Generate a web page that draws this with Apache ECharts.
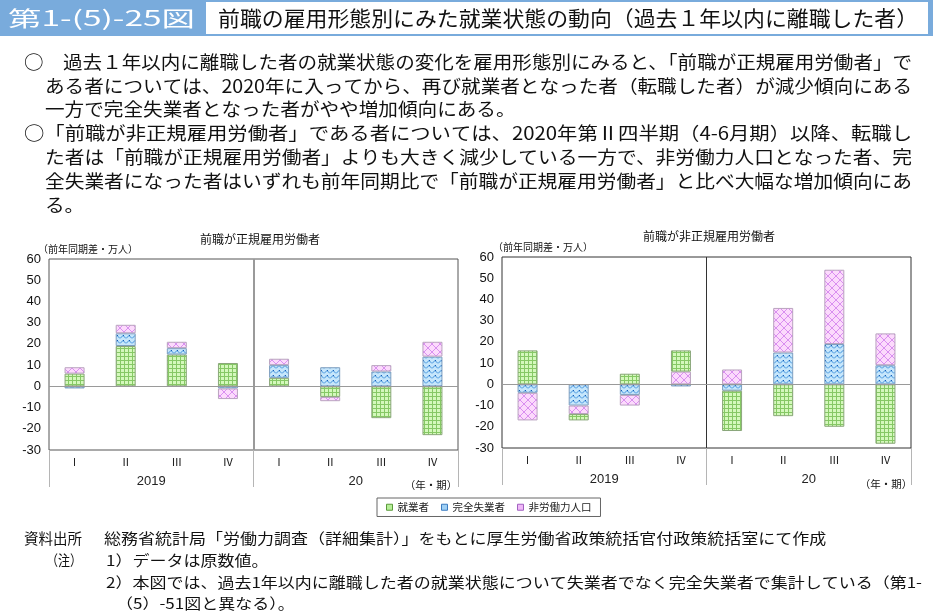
<!DOCTYPE html>
<html><head><meta charset="utf-8">
<script src="https://cdn.jsdelivr.net/npm/echarts@6/dist/echarts.min.js"></script>
<style>html,body{margin:0;padding:0;background:#fff}#c{width:933px;height:613px}</style>
</head><body><div id="c"></div>
<script>
// ---------- data ----------
const quarters = ['Ⅰ','Ⅱ','Ⅲ','Ⅳ','Ⅰ','Ⅱ','Ⅲ','Ⅳ'];
const years = ['2019','20'];
const seriesNames = ['就業者','完全失業者','非労働力人口'];
// 前職が正規雇用労働者
const regEmployed   = [6, 19, 15, 11, 4, -5, -15, -23];
const regUnemployed = [-1, 6, 3, -1, 6, 9, 7, 14];
const regNotInLF    = [3, 4, 3, -5, 3, -2, 3, 7];
// 前職が非正規雇用労働者
const nonEmployed   = [16, -3, 5, 10, -19, -15, -20, -28];
const nonUnemployed = [-4, -10, -5, -1, -3, 15, 19, 9];
const nonNotInLF    = [-13, -4, -5, 6, 7, 21, 35, 15];
const yMin = -30, yMax = 60, yInterval = 10;

const chartTitles = ['前職が正規雇用労働者','前職が非正規雇用労働者'];
const yUnit = '（前年同期差・万人）';
const xUnit = '（年・期）';
const figNo = '第1-(5)-25図';
const figTitle = '前職の雇用形態別にみた就業状態の動向（過去１年以内に離職した者）';
const paraLines = [
 '○　過去１年以内に離職した者の就業状態の変化を雇用形態別にみると、「前職が正規雇用労働者」で',
 'ある者については、2020年に入ってから、再び就業者となった者（転職した者）が減少傾向にある',
 '一方で完全失業者となった者がやや増加傾向にある。',
 '○「前職が非正規雇用労働者」である者については、2020年第Ⅱ四半期（4-6月期）以降、転職し',
 'た者は「前職が正規雇用労働者」よりも大きく減少している一方で、非労働力人口となった者、完',
 '全失業者になった者はいずれも前年同期比で「前職が正規雇用労働者」と比べ大幅な増加傾向にあ',
 'る。'
];
const noteLines = [
 '資料出所', '総務省統計局「労働力調査（詳細集計）」をもとに厚生労働省政策統括官付政策統括室にて作成',
 '（注）', '1）データは原数値。',
 '2）本図では、過去1年以内に離職した者の就業状態について失業者でなく完全失業者で集計している（第1-',
 '（5）-51図と異なる）。'
];

// ---------- patterns ----------
function makePattern(w,h,draw){const c=document.createElement('canvas');c.width=w;c.height=h;const g=c.getContext('2d');draw(g,w,h);return c;}
const greenPat = makePattern(4,4,g=>{g.fillStyle='#d4f8bc';g.fillRect(0,0,4,4);g.fillStyle='#86c865';g.fillRect(0,0,4,1);g.fillRect(0,0,1,4);});
const bluePat = makePattern(6,5,g=>{g.fillStyle='#c6e6fb';g.fillRect(0,0,6,5);g.strokeStyle='#3d8fdb';g.lineWidth=1;g.beginPath();g.moveTo(0,3.5);g.lineTo(3,0.5);g.lineTo(6,3.5);g.stroke();g.fillStyle='#1a5fb8';g.fillRect(3,0,1,1);});
const pinkPat = makePattern(8,8,g=>{g.fillStyle='#fcdafc';g.fillRect(0,0,8,8);g.strokeStyle='#d98ff0';g.lineWidth=1;g.beginPath();g.moveTo(0,0);g.lineTo(8,8);g.moveTo(8,0);g.lineTo(0,8);g.stroke();});
const pats = {'就業者':[greenPat,'#8aa67a'],'完全失業者':[bluePat,'#7f9fbf'],'非労働力人口':[pinkPat,'#b9a3bf']};

// ---------- text fit ----------
const mctx = document.createElement('canvas').getContext('2d');
const JP = '"Noto Sans CJK JP", "Noto Sans", sans-serif';
function measure(t,size,weight){mctx.font=(weight||'normal')+' '+size+'px '+JP;return mctx.measureText(t).width;}
function txt(t,x,y,size,opts){
  opts=opts||{};
  let sx=1;
  if(opts.width){sx=opts.width/measure(t,size,opts.weight);} else if(opts.scale){sx=opts.scale;}
  return {type:'text',x:x,y:y,scaleX:sx,z:100,silent:true,style:{text:t,fontSize:size,fontFamily:JP,fontWeight:opts.weight||'normal',fill:opts.color||'#111',align:opts.align||'left',verticalAlign:'middle'}};
}

const graphics = [];
graphics.push({type:'rect',shape:{x:0,y:0,width:933,height:36},style:{fill:'#79abdc'},z:90,silent:true});
graphics.push({type:'rect',shape:{x:206,y:2,width:722,height:32},style:{fill:'#fff'},z:91,silent:true});
graphics.push(txt(figNo,8,18,21,{width:187,color:'#fff'}));
graphics.push(txt(figTitle,218,18,21,{width:700,color:'#111'}));
// paragraph
const pSize=18;
const fullScale = 867/measure(paraLines[1],pSize);
const pY=[62,86,109,133,157,181,205];
paraLines.forEach((t,i)=>{
  const x = (i===0||i===3)?24:45;
  if(i===2||i===6) graphics.push(txt(t,x,pY[i],pSize,{scale:fullScale}));
  else graphics.push(txt(t,x,pY[i],pSize,{width:912-x}));
});
// axis units
graphics.push(txt(yUnit,38,249,10,{}));
graphics.push(txt(yUnit,493,247,10,{}));
graphics.push(txt(xUnit,431,485,10.5,{align:'center'}));
graphics.push(txt(xUnit,886,484,10.5,{align:'center'}));
// notes
const nSize=14.5;
const nScale = (922-106)/measure(noteLines[4],nSize);
graphics.push(txt(noteLines[0],24,538,nSize,{width:58}));
graphics.push(txt(noteLines[1],104,538,nSize,{scale:nScale}));
graphics.push(txt(noteLines[2],46,560,nSize,{width:36}));
graphics.push(txt(noteLines[3],106,560,nSize,{scale:nScale}));
graphics.push(txt(noteLines[4],106,582,nSize,{scale:nScale}));
graphics.push(txt(noteLines[5],116,603,nSize,{scale:nScale}));

// ---------- series ----------
function bar(name,data,gi){
  const p=pats[name];
  return {type:'bar',name:name,data:data,xAxisIndex:gi*2,yAxisIndex:gi,stack:'s'+gi,barWidth:20,
    itemStyle:{color:{image:p[0],repeat:'repeat'},borderColor:p[1],borderWidth:1},
    emphasis:{disabled:true}};
}
const zeroLine = {silent:true,symbol:'none',label:{show:false},lineStyle:{color:'#9a9a9a',width:1,type:'solid'},data:[{yAxis:0}]};
const s = [
  bar('就業者',regEmployed,0), bar('完全失業者',regUnemployed,0), bar('非労働力人口',regNotInLF,0),
  bar('完全失業者',nonUnemployed,1), bar('非労働力人口',nonNotInLF,1), bar('就業者',nonEmployed,1)
];
s[0].markLine = zeroLine; s[3].markLine = zeroLine;

function xAxes(gi,sepColor,sepWidth){
  return [
    {gridIndex:gi,type:'category',data:quarters,position:'bottom',axisLine:{show:false},axisTick:{show:false},
     axisLabel:{margin:6,fontSize:11,color:'#222',fontFamily:JP}},
    {gridIndex:gi,type:'category',data:years,position:'bottom',axisLine:{show:false},
     axisTick:{show:true,length:37,lineStyle:{color:'#b5b5b5'}},
     axisLabel:{margin:25,fontSize:13,color:'#222',fontFamily:'"Liberation Sans", Arial, sans-serif'},
     splitLine:{show:true,showMinLine:false,showMaxLine:false,lineStyle:{color:sepColor,width:sepWidth}}}
  ];
}
function yAxis(gi){
  return {gridIndex:gi,type:'value',min:yMin,max:yMax,interval:yInterval,
    axisLine:{show:false},axisTick:{show:false},splitLine:{show:false},
    axisLabel:{margin:8,fontSize:13,color:'#111',fontFamily:'"Liberation Sans", Arial, sans-serif'}};
}

const chart = echarts.init(document.getElementById('c'),null,{renderer:'canvas'});
chart.setOption({
  animation:false,
  backgroundColor:'#fff',
  title:[
    {text:chartTitles[0],left:255,top:228,textAlign:'center',textStyle:{fontSize:12,fontWeight:'normal',color:'#111',fontFamily:JP}},
    {text:chartTitles[1],left:704,top:225,textAlign:'center',textStyle:{fontSize:12,fontWeight:'normal',color:'#111',fontFamily:JP}}
  ],
  legend:{data:seriesNames.map((n,i)=>({name:n,icon:'rect',itemStyle:{color:['#b6ef98','#9fd0f5','#f0b8f8'][i],borderColor:['#5a9a3a','#3a7ac0','#a060c0'][i],borderWidth:1}})),
    left:377,top:498,itemWidth:6,itemHeight:6,itemGap:12,padding:[4,9],borderColor:'#666',borderWidth:1,
    textStyle:{fontSize:10.5,color:'#222',fontFamily:JP},selectedMode:false},
  grid:[
    {left:49,top:259,width:409,height:191,show:true,borderColor:'#555',borderWidth:1,backgroundColor:'transparent',containLabel:false},
    {left:502,top:257,width:409,height:191,show:true,borderColor:'#333',borderWidth:1,backgroundColor:'transparent',containLabel:false}
  ],
  xAxis:[...xAxes(0,'#9a9a9a',2),...xAxes(1,'#333',1)],
  yAxis:[yAxis(0),yAxis(1)],
  series:s,
  graphic:graphics
});
</script></body></html>
